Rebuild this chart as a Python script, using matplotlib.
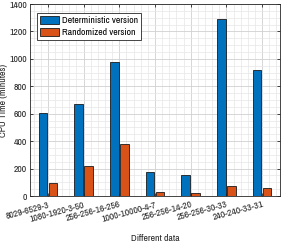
import matplotlib
matplotlib.use("Agg")
import matplotlib.pyplot as plt
import numpy as np
from matplotlib.ticker import MultipleLocator

categories = ["8029-6529-3", "1080-1920-3-50", "256-256-16-256", "1000-10000-4-7",
              "256-256-14-20", "256-256-30-33", "240-240-33-31"]
deterministic = [605, 670, 978, 178, 151, 1293, 918]
randomized = [93, 221, 378, 26, 23, 71, 56]
series_names = ["Deterministic version", "Randomized version"]

plt.rcParams['font.family'] = ['Liberation Sans Narrow', 'Archivo Narrow', 'Liberation Sans', 'DejaVu Sans']
plt.rcParams['font.size'] = 7
TXT = '#262626'

fig = plt.figure(figsize=(2.83, 2.44), dpi=100)
ax = fig.add_axes([30/283, 1-196/244, 250/283, 192/244])

x = np.arange(1, len(categories) + 1)
w = 0.24
ax.bar(x - 0.14, deterministic, w, color='#0072BD', edgecolor='#1a1a1a', linewidth=0.6,
       label=series_names[0], zorder=3)
ax.bar(x + 0.14, randomized, w, color='#D95319', edgecolor='#1a1a1a', linewidth=0.6,
       label=series_names[1], zorder=3)

ax.set_xlim(0.5, 7.5)
ax.set_ylim(0, 1400)
ax.set_xticks(x)
ax.set_xticklabels(categories, rotation=15, ha='right', rotation_mode='anchor')
ax.yaxis.set_major_locator(MultipleLocator(200))
ax.yaxis.set_minor_locator(MultipleLocator(50))
ax.xaxis.set_minor_locator(MultipleLocator(0.2))
ax.grid(True, which='major', color='#d0d0d0', linewidth=0.6, zorder=0)
ax.grid(True, which='minor', color='#e6e6e6', linewidth=0.5, zorder=0)
ax.set_axisbelow(True)
ax.tick_params(which='major', direction='in', length=2.5, width=0.6, top=True, right=True,
               colors=TXT, labelsize=7, pad=2)
ax.tick_params(axis='x', which='major', pad=3)
ax.tick_params(which='minor', length=0, top=True, right=True)
for s in ax.spines.values():
    s.set_color(TXT)
    s.set_linewidth(0.6)
ax.set_ylabel("CPU Time (minutes)", fontsize=7, color=TXT, va='center')
ax.yaxis.set_label_coords(-(30 - 4) / 250, 0.5)
ax.set_xlabel("Different data", fontsize=7, color=TXT, va='center')
ax.xaxis.set_label_coords(0.5, -(238.5 - 196) / 192)

leg = ax.legend(loc='upper left', bbox_to_anchor=(0.028, 0.953), fontsize=7, frameon=True,
                fancybox=False, edgecolor=TXT, framealpha=1, handlelength=2.0,
                handleheight=0.9, borderpad=0.3, labelspacing=0.25, handletextpad=0.25,
                borderaxespad=0)
leg.get_frame().set_linewidth(0.6)
for t in leg.get_texts():
    t.set_color('#000000')

fig.savefig("out.png", dpi=100)
